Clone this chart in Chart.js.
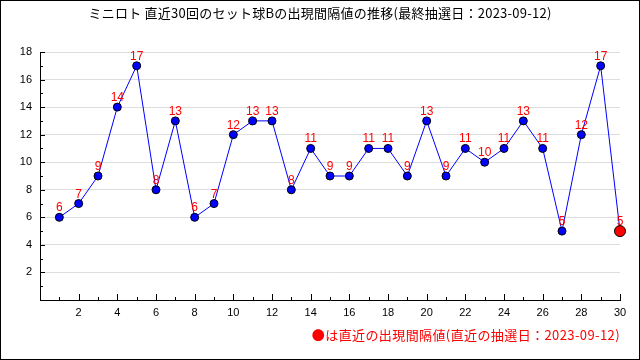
<!DOCTYPE html>
<html>
<head>
<meta charset="utf-8">
<script src="https://cdn.jsdelivr.net/npm/chart.js@4/dist/chart.umd.min.js"></script>
<style>
  html, body { margin: 0; padding: 0; background: #fff; }
  #wrap { width: 640px; height: 360px; }
</style>
</head>
<body>
<div id="wrap"><canvas id="c" width="640" height="360"></canvas></div>
<script>
// Data
var titleText = 'ミニロト 直近30回のセット球Bの出現間隔値の推移(最終抽選日：2023-09-12)';
var noteText = '●は直近の出現間隔値(直近の抽選日：2023-09-12)';
var rounds = [1, 2, 3, 4, 5, 6, 7, 8, 9, 10, 11, 12, 13, 14, 15, 16, 17, 18, 19, 20, 21, 22, 23, 24, 25, 26, 27, 28, 29, 30];
var intervals = [6, 7, 9, 14, 17, 8, 13, 6, 7, 12, 13, 13, 8, 11, 9, 9, 11, 11, 9, 13, 9, 11, 10, 11, 13, 11, 5, 12, 17, 5];
var xTicks = [2, 4, 6, 8, 10, 12, 14, 16, 18, 20, 22, 24, 26, 28, 30];
var yTicks = [2, 4, 6, 8, 10, 12, 14, 16, 18];

var points = rounds.map(function (r, i) { return { x: r, y: intervals[i] }; });
var last = rounds.length - 1;
var pointColors = rounds.map(function (r, i) { return i === last ? '#ff0000' : '#0000ff'; });
var pointSizes = rounds.map(function (r, i) { return i === last ? 5.5 : 4; });

var tickFont = { family: '"Liberation Sans", Arial, sans-serif', size: 11 };

// frame, title, note, inside ticks, value labels
var decorations = {
  id: 'decorations',
  beforeDraw: function (chart) {
    var ctx = chart.ctx;
    ctx.save();
    ctx.fillStyle = '#fff';
    ctx.fillRect(0, 0, chart.width, chart.height);
    ctx.restore();
  },
  afterDatasetsDraw: function (chart) {
    var ctx = chart.ctx;
    var meta = chart.getDatasetMeta(0);
    ctx.save();
    ctx.fillStyle = '#ff0000';
    ctx.font = '12px "Liberation Sans", Arial, sans-serif';
    ctx.textAlign = 'center';
    ctx.textBaseline = 'alphabetic';
    meta.data.forEach(function (el, i) {
      ctx.fillText(String(intervals[i]), el.x, el.y - 6);
    });
    ctx.restore();
  },
  afterDraw: function (chart) {
    var ctx = chart.ctx;
    var xs = chart.scales.x, ys = chart.scales.y;
    var area = chart.chartArea;
    ctx.save();
    ctx.strokeStyle = '#000';
    ctx.lineWidth = 1;
    ctx.beginPath();
    for (var i = 1; i <= 30; i++) {
      var px = Math.round(xs.getPixelForValue(i)) + 0.5;
      var len = i % 2 === 0 ? 6 : 3;
      ctx.moveTo(px, area.bottom);
      ctx.lineTo(px, area.bottom - len);
    }
    for (var j = 1; j <= 18; j++) {
      var py = Math.round(ys.getPixelForValue(j)) + 0.5;
      var l = j % 2 === 0 ? 5 : 3;
      ctx.moveTo(area.left, py);
      ctx.lineTo(area.left + l, py);
    }
    ctx.stroke();
    ctx.strokeRect(0.5, 0.5, chart.width - 1, chart.height - 1);

    ctx.fillStyle = '#000';
    ctx.font = '13px "Noto Sans CJK JP", sans-serif';
    ctx.textAlign = 'center';
    ctx.textBaseline = 'middle';
    ctx.letterSpacing = '0.25px';
    ctx.fillText(titleText, 320, 13);

    ctx.fillStyle = '#ff0000';
    ctx.textAlign = 'right';
    ctx.letterSpacing = '0.4px';
    ctx.fillText(noteText, area.right, 335);
    ctx.restore();
  }
};

new Chart(document.getElementById('c'), {
  type: 'line',
  data: {
    datasets: [{
      data: points,
      borderColor: '#0000ff',
      borderWidth: 1,
      tension: 0,
      pointBackgroundColor: pointColors,
      pointBorderColor: '#000',
      pointBorderWidth: 1,
      pointRadius: pointSizes,
      clip: false
    }]
  },
  options: {
    responsive: false,
    animation: false,
    layout: { padding: { top: 52, right: 20, bottom: 30, left: 0 } },
    plugins: { legend: { display: false }, tooltip: { enabled: false } },
    scales: {
      x: {
        type: 'linear',
        min: 0,
        max: 30,
        afterFit: function (scale) { scale.height = 30; },
        afterBuildTicks: function (scale) {
          scale.ticks = xTicks.map(function (v) { return { value: v }; });
        },
        grid: { display: false, drawTicks: false },
        border: { display: true, color: '#000', width: 1 },
        ticks: { color: '#000', font: tickFont, padding: 6, maxRotation: 0, autoSkip: false }
      },
      y: {
        min: 0,
        max: 18,
        afterFit: function (scale) { scale.width = 40; },
        afterBuildTicks: function (scale) {
          scale.ticks = yTicks.map(function (v) { return { value: v }; });
        },
        grid: { color: '#dddddd', drawTicks: false },
        border: { display: true, color: '#000', width: 1 },
        ticks: { color: '#000', font: tickFont, padding: 8 }
      }
    }
  },
  plugins: [decorations]
});
</script>
</body>
</html>
